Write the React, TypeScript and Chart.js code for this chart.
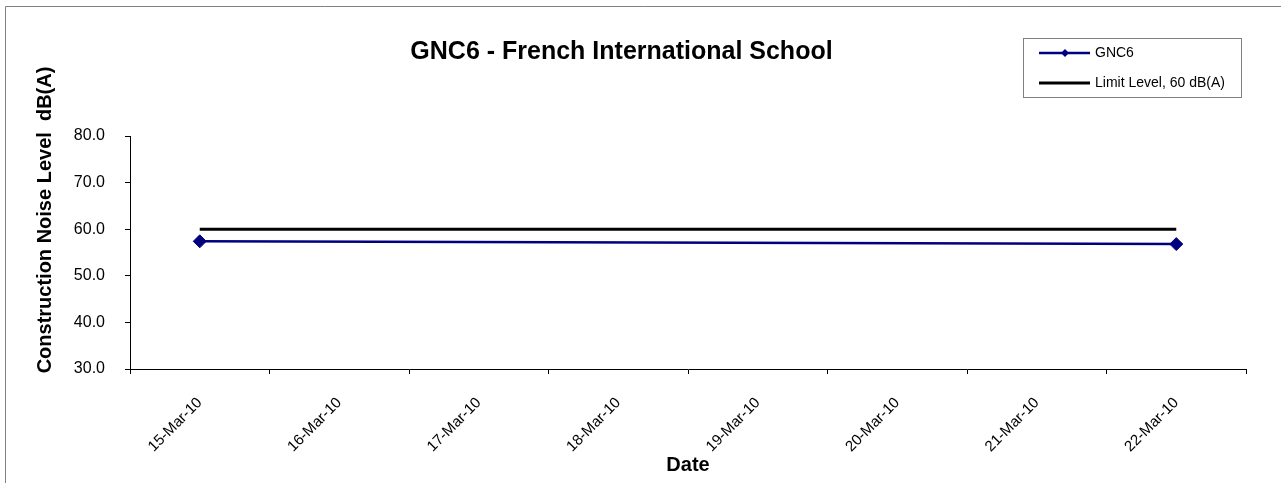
import React, { useEffect, useRef } from "react";
import { Chart, registerables } from "chart.js";

Chart.register(...registerables);

const categories = [
  "15-Mar-10",
  "16-Mar-10",
  "17-Mar-10",
  "18-Mar-10",
  "19-Mar-10",
  "20-Mar-10",
  "21-Mar-10",
  "22-Mar-10",
];
const gnc6Values: (number | null)[] = [57.4, null, null, null, null, null, null, 56.8];
const limitValues = [60, 60, 60, 60, 60, 60, 60, 60];
const yMin = 30;
const yMax = 80;
const yStep = 10;

const chartTitle = "GNC6 - French International School";
const yTitle = "Construction Noise Level  dB(A)";
const xTitle = "Date";
const seriesNames = ["GNC6", "Limit Level, 60 dB(A)"];

const FONT = "'Liberation Sans', Arial, sans-serif";
const NAVY = "#000080";

const decorPlugin = {
  id: "decor",
  afterDraw(chart: any) {
    const ctx = chart.ctx as CanvasRenderingContext2D;
    ctx.save();
    // outer frame
    ctx.strokeStyle = "#808080";
    ctx.lineWidth = 1;
    ctx.beginPath();
    ctx.moveTo(5.5, 490);
    ctx.lineTo(5.5, 6.5);
    ctx.lineTo(1285, 6.5);
    ctx.stroke();

    // title
    ctx.fillStyle = "#000";
    ctx.font = `bold 25px ${FONT}`;
    ctx.textAlign = "center";
    ctx.textBaseline = "alphabetic";
    ctx.fillText(chartTitle, 621.5, 59);

    // y title
    ctx.save();
    ctx.translate(51, 220);
    ctx.rotate(-Math.PI / 2);
    ctx.font = `bold 20px ${FONT}`;
    ctx.textAlign = "center";
    ctx.textBaseline = "alphabetic";
    ctx.fillText(yTitle, 0, 0);
    ctx.restore();

    // legend
    ctx.strokeStyle = "#808080";
    ctx.lineWidth = 1;
    ctx.strokeRect(1023.5, 38.5, 218, 59);
    // GNC6 entry
    ctx.strokeStyle = NAVY;
    ctx.lineWidth = 2.5;
    ctx.beginPath();
    ctx.moveTo(1039, 53);
    ctx.lineTo(1090, 53);
    ctx.stroke();
    ctx.fillStyle = NAVY;
    ctx.beginPath();
    ctx.moveTo(1065, 49);
    ctx.lineTo(1069, 53);
    ctx.lineTo(1065, 57);
    ctx.lineTo(1061, 53);
    ctx.closePath();
    ctx.fill();
    // Limit entry
    ctx.strokeStyle = "#000";
    ctx.lineWidth = 3;
    ctx.beginPath();
    ctx.moveTo(1039, 83);
    ctx.lineTo(1090, 83);
    ctx.stroke();
    ctx.fillStyle = "#000";
    ctx.font = `14px ${FONT}`;
    ctx.textAlign = "left";
    ctx.textBaseline = "middle";
    ctx.fillText(seriesNames[0], 1095, 53);
    ctx.fillText(seriesNames[1], 1095, 83);
    ctx.restore();
  },
};

export default function App() {
  const canvasRef = useRef<HTMLCanvasElement | null>(null);

  useEffect(() => {
    const canvas = canvasRef.current;
    if (!canvas) return;
    const chart = new Chart(canvas, {
      type: "line",
      data: {
        labels: categories,
        datasets: [
          {
            label: seriesNames[0],
            data: gnc6Values,
            borderColor: NAVY,
            backgroundColor: NAVY,
            borderWidth: 2.5,
            pointStyle: "rectRot",
            pointRadius: 6.5,
            pointBorderWidth: 1,
            pointBackgroundColor: NAVY,
            pointBorderColor: NAVY,
            spanGaps: true,
            tension: 0,
          },
          {
            label: seriesNames[1],
            data: limitValues,
            borderColor: "#000",
            backgroundColor: "#000",
            borderWidth: 3,
            pointRadius: 0,
            tension: 0,
          },
        ],
      },
      options: {
        animation: false,
        responsive: false,
        maintainAspectRatio: false,
        layout: { padding: { left: 0, top: 136, right: 35, bottom: 0 } },
        plugins: {
          legend: { display: false },
          title: { display: false },
          tooltip: { enabled: false },
        },
        scales: {
          x: {
            type: "category",
            offset: true,
            grid: {
              offset: true,
              drawOnChartArea: false,
              drawTicks: true,
              tickLength: 5,
              color: "#000",
            },
            border: { color: "#000", width: 1 },
            ticks: {
              autoSkip: false,
              maxRotation: 45,
              minRotation: 45,
              padding: 20,
              color: "#000",
              font: { family: FONT, size: 15 },
            },
            title: {
              display: true,
              text: xTitle,
              color: "#000",
              font: { family: FONT, size: 20, weight: "bold" },
              padding: { top: 0, bottom: 6 },
            },
            afterFit(scale: any) {
              scale.height = 114;
            },
          },
          y: {
            min: yMin,
            max: yMax,
            grid: {
              drawOnChartArea: false,
              drawTicks: true,
              tickLength: 5,
              color: "#000",
            },
            border: { color: "#000", width: 1 },
            ticks: {
              stepSize: yStep,
              padding: 20,
              color: "#000",
              font: { family: FONT, size: 16 },
              callback: (v: any) => Number(v).toFixed(1),
            },
            afterFit(scale: any) {
              scale.width = 130;
            },
          },
        },
      },
      plugins: [decorPlugin],
    });
    return () => chart.destroy();
  }, []);

  return (
    <div style={{ position: "absolute", left: 0, top: 0, width: 1281, height: 483, background: "#fff" }}>
      <canvas ref={canvasRef} width={1281} height={483} style={{ display: "block", width: 1281, height: 483 }} />
    </div>
  );
}
